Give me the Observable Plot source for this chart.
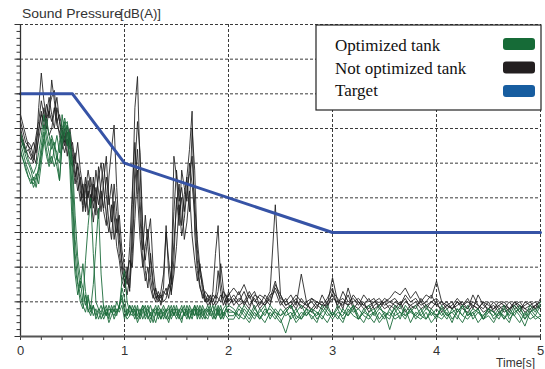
<!DOCTYPE html>
<html><head><meta charset="utf-8">
<script src="https://cdn.jsdelivr.net/npm/d3@7"></script>
<script src="https://cdn.jsdelivr.net/npm/@observablehq/plot@0.6"></script>
<style>html,body{margin:0;padding:0;background:#fff}svg{display:block}</style>
</head><body><div id="chart"></div>
<script>
// Samples: 0..2 s every 0.025 s (81 values), then 2.05..5 s every 0.05 s (60 values)
const black1 = [6.2,5.9,5.6,5.5,5.3,5.1,5.4,6.6,7.6,6.8,6.3,6.5,6.2,6.6,6.1,5.9,5.7,6.0,5.5,5.8,5.2,4.6,4.9,4.2,3.8,4.4,4.0,4.6,3.9,4.8,4.2,3.6,4.5,5.2,3.8,4.4,3.5,2.6,2.2,1.6,1.4,2.0,1.3,3.8,6.6,7.5,4.8,2.9,2.2,2.9,3.4,2.0,1.3,1.1,1.2,1.0,1.1,1.4,1.9,3.6,4.8,3.9,4.3,3.6,4.6,5.4,6.5,3.0,1.9,1.4,1.2,1.0,1.1,0.9,1.3,2.4,3.2,1.6,1.1,1.2,1.0,
  1.2,1.0,1.3,0.9,1.1,0.8,1.0,1.3,3.8,1.2,0.9,1.0,0.8,1.1,0.9,1.0,0.8,1.2,0.9,1.7,1.0,0.9,1.2,0.8,1.0,0.9,1.1,0.8,0.9,1.0,0.8,1.0,0.9,1.1,0.8,0.9,1.0,0.8,1.0,0.9,0.8,0.9,1.0,0.7,0.9,0.8,1.0,0.9,0.7,0.8,0.9,0.7,0.8,1.0,0.8,0.9,0.7,0.8,0.9,1.0];
const black2 = [5.8,5.6,5.3,5.4,5.2,5.0,5.6,6.0,6.4,6.2,6.7,6.3,7.4,6.8,6.2,6.4,6.0,5.6,5.9,5.4,5.6,5.0,5.6,4.8,4.3,3.7,4.5,3.9,4.4,3.5,4.9,4.1,3.6,3.2,4.6,5.4,6.1,4.3,3.0,2.2,1.8,1.5,2.6,4.2,5.6,4.1,2.8,2.0,2.6,3.1,2.2,1.4,1.2,1.0,1.3,1.8,3.0,2.2,1.5,5.2,4.6,3.5,4.0,2.8,3.3,4.2,2.9,2.2,1.6,2.1,1.3,1.1,0.9,1.0,1.2,1.1,1.9,1.3,0.9,1.1,1.2,
  1.4,1.2,1.5,1.1,1.3,0.9,1.2,1.0,1.4,1.1,1.0,1.2,0.9,1.8,1.0,1.1,0.9,0.8,1.0,1.2,0.9,1.3,1.0,1.1,0.9,1.2,1.0,1.1,0.8,1.0,1.1,1.3,1.2,1.4,1.1,1.3,1.0,1.2,1.1,1.6,1.0,0.9,0.8,1.0,0.9,1.1,0.8,1.2,0.9,0.8,1.0,0.8,0.9,0.7,1.0,0.8,0.9,1.0,0.8,0.9];
const black3 = [6.0,5.7,5.4,5.2,5.1,5.3,5.8,6.2,6.8,6.4,6.0,6.6,6.9,7.1,6.3,5.8,5.4,5.8,5.2,6.0,5.4,4.8,4.2,4.6,4.0,4.6,3.5,4.1,3.3,4.0,4.6,5.0,4.2,3.5,3.0,3.8,2.8,3.4,2.4,1.9,1.6,1.2,1.7,2.9,4.9,6.2,5.3,3.2,1.9,1.4,2.4,1.6,1.1,1.2,0.9,1.2,1.4,1.1,1.6,2.7,3.8,4.4,3.2,4.1,4.6,3.6,6.0,4.8,2.5,1.8,1.5,1.2,1.0,1.2,0.9,1.0,1.3,2.1,1.4,1.0,1.1,
  1.0,1.3,0.9,1.2,0.8,1.0,0.9,1.1,1.6,1.0,0.8,0.9,1.1,0.8,1.0,0.7,0.9,1.0,0.8,1.3,1.1,0.8,1.4,0.9,0.8,1.0,0.7,0.9,1.0,0.8,0.9,0.8,1.0,0.7,0.9,1.0,0.8,0.9,0.8,1.0,0.7,0.9,0.8,1.0,0.8,0.7,0.9,0.8,1.0,0.7,0.8,0.9,0.7,0.8,1.0,0.9,0.8,0.7,0.9,0.8];
const black4 = [6.4,6.1,5.8,5.5,5.4,5.6,5.3,5.7,6.1,6.6,6.2,5.8,6.0,6.5,6.9,6.2,5.9,5.5,6.1,5.6,5.0,4.4,5.0,4.5,3.6,4.2,4.8,4.3,3.7,4.3,3.8,4.4,5.0,4.1,3.3,2.8,3.9,3.0,3.5,2.5,2.0,1.6,1.4,2.4,4.4,5.4,3.9,2.5,3.5,2.6,1.7,1.2,1.0,1.3,1.1,1.4,3.2,1.8,1.2,2.2,4.0,3.2,4.8,4.3,3.9,5.0,4.4,3.5,2.2,1.5,1.1,1.3,1.2,1.0,1.1,0.9,1.0,1.2,1.1,0.9,1.3,
  0.9,1.1,1.0,0.8,1.2,1.1,0.9,1.2,1.3,0.9,1.1,0.8,1.0,0.9,0.8,1.1,1.0,0.9,1.1,1.4,0.8,1.0,0.9,1.2,1.0,0.8,0.9,1.0,1.1,0.9,1.0,0.9,0.8,1.0,0.9,0.8,1.1,0.9,1.0,1.1,0.9,1.0,0.8,0.9,1.0,0.8,1.2,0.9,0.8,1.0,0.7,0.9,1.0,0.8,0.9,1.0,0.8,0.9,1.0,0.8];
const black5 = [5.7,5.5,5.4,5.6,5.5,5.2,5.0,5.9,6.5,6.0,6.4,6.9,6.4,6.0,6.6,6.2,5.6,5.3,5.7,5.1,4.9,5.3,4.5,3.9,4.4,3.6,4.2,3.7,4.6,3.9,3.4,4.2,3.7,4.6,4.0,3.3,4.4,3.6,2.8,2.1,1.5,1.8,2.2,2.0,3.4,4.8,3.4,2.2,1.6,2.0,1.4,1.1,1.4,1.1,1.0,1.3,1.2,1.5,1.3,1.8,2.6,3.8,2.9,3.4,4.2,4.7,5.2,3.8,2.8,2.0,1.6,1.0,1.2,1.1,1.0,1.2,1.1,1.0,1.3,1.2,0.9,
  1.1,0.9,1.0,1.3,1.0,1.2,1.1,0.9,1.5,1.2,0.9,1.0,1.2,1.0,0.9,0.8,1.0,0.9,0.9,1.1,1.0,1.1,0.9,1.0,1.1,0.9,0.8,1.0,0.9,1.1,1.0,1.1,0.9,1.2,1.0,1.1,0.9,1.0,1.2,0.9,1.0,0.8,0.9,1.1,0.9,1.0,0.9,0.8,1.0,0.9,0.8,1.0,0.9,0.8,0.9,0.7,1.0,0.9,0.8,1.1];
const green1 = [5.8,5.5,5.2,5.0,4.8,4.5,4.7,4.4,5.0,5.6,6.3,5.8,5.4,5.6,5.1,5.6,6.0,6.3,5.9,4.8,3.0,1.8,1.2,1.6,1.0,2.2,3.2,4.0,2.4,1.0,0.8,0.7,0.9,0.6,0.8,0.7,0.9,0.7,0.8,1.6,1.9,1.0,0.7,0.6,0.8,0.5,0.7,0.9,0.6,0.8,0.5,0.7,0.9,0.6,0.8,0.5,0.7,0.9,0.6,0.8,0.7,0.5,0.8,0.6,0.9,0.7,0.5,0.8,0.6,0.9,0.7,0.5,0.8,0.6,0.7,0.9,0.6,0.8,0.5,0.7,0.8,
  0.7,0.5,0.8,0.6,0.9,0.5,0.7,0.8,0.6,0.4,0.7,0.9,0.5,0.7,0.6,0.8,0.5,0.7,0.9,0.6,0.8,0.5,0.7,0.9,0.6,0.4,0.7,0.8,0.5,0.7,0.6,0.8,0.5,0.9,0.7,0.6,0.8,0.5,0.7,0.6,0.8,0.6,0.7,0.5,0.9,0.6,0.7,0.8,0.5,0.7,0.6,0.8,0.5,0.7,0.6,0.9,0.5,0.7,0.8,0.6];
const green2 = [5.4,5.1,4.9,4.6,4.4,4.6,4.3,4.7,5.2,5.9,5.4,5.0,5.7,5.2,4.9,4.5,5.6,6.1,6.2,5.5,4.0,2.4,1.6,1.2,0.9,0.7,1.1,0.8,1.5,2.6,3.7,1.8,0.8,0.6,0.9,0.7,0.6,0.8,0.7,0.9,0.5,0.8,0.6,0.9,0.7,0.4,0.6,0.8,0.5,0.7,0.9,0.6,0.4,0.7,0.5,0.8,0.6,0.4,0.7,0.9,0.6,0.8,0.5,0.7,0.5,0.8,0.6,0.9,0.7,0.5,0.8,0.6,0.5,0.7,0.9,0.6,0.8,0.5,0.7,0.6,0.5,
  0.5,0.8,0.6,0.4,0.7,0.5,0.8,0.6,0.7,0.5,0.1,0.6,0.8,0.5,0.7,0.6,0.4,0.8,0.6,0.7,0.5,0.8,0.6,0.9,0.5,0.7,0.6,0.4,0.7,0.5,0.8,0.6,0.7,0.5,0.8,0.6,0.5,0.7,0.4,0.6,0.7,0.5,0.8,0.6,0.4,0.7,0.6,0.8,0.5,0.6,0.4,0.7,0.5,0.8,0.6,0.4,0.7,0.5,0.6,0.5];
const green3 = [5.6,5.3,5.0,4.8,4.6,4.3,4.5,4.9,5.5,6.1,5.7,5.3,5.0,5.4,5.8,5.3,6.4,5.8,5.5,5.9,4.6,2.8,2.0,1.4,2.1,1.3,0.8,0.6,0.9,0.5,0.7,0.9,0.6,0.8,0.5,0.9,0.7,1.0,0.8,1.4,1.1,0.6,0.9,0.7,0.9,0.6,0.8,0.5,0.7,0.9,0.6,0.8,0.6,0.9,0.7,0.6,0.8,0.5,0.8,0.6,0.9,0.6,0.7,0.9,0.6,0.9,0.7,0.6,0.8,0.6,0.9,0.7,0.9,0.7,0.5,0.8,0.7,0.9,0.6,0.8,0.9,
  0.8,0.6,0.9,0.7,0.5,0.8,0.6,0.9,0.7,0.6,0.8,0.5,0.7,0.9,0.6,0.8,0.7,0.5,0.8,0.6,0.9,0.7,0.6,0.8,0.5,0.7,0.9,0.6,0.8,0.7,0.2,0.7,0.9,0.6,0.8,0.5,0.7,0.9,0.6,0.8,0.6,0.8,0.5,0.7,0.9,0.6,0.8,0.7,0.5,0.8,0.7,0.5,0.8,0.6,0.9,0.7,0.5,0.8,0.6,0.9];
const green4 = [5.9,5.6,5.4,5.1,4.9,4.7,4.9,5.3,5.8,6.4,5.9,5.5,5.8,5.5,5.3,4.5,5.5,5.9,6.1,5.7,5.0,3.5,2.3,1.7,1.4,0.9,1.2,0.7,0.9,0.6,0.8,0.5,0.7,0.9,0.6,0.8,0.5,0.7,0.9,1.2,0.8,0.6,0.9,0.7,0.5,0.8,0.6,0.9,0.8,0.6,0.4,0.7,0.8,0.5,0.7,0.9,0.7,0.8,0.5,0.7,0.5,0.7,0.9,0.6,0.8,0.5,0.7,0.9,0.5,0.8,0.6,0.8,0.7,0.9,0.6,0.5,0.9,0.6,0.8,0.9,0.6,
  0.6,0.9,0.7,0.5,0.8,0.6,0.4,0.7,0.5,0.8,0.6,0.7,0.4,0.6,0.8,0.5,0.7,0.6,0.4,0.7,0.6,0.4,0.8,0.6,0.5,0.8,0.6,0.7,0.4,0.6,0.7,0.5,0.6,0.8,0.4,0.7,0.6,0.5,0.8,0.6,0.5,0.7,0.4,0.8,0.6,0.5,0.7,0.4,0.6,0.8,0.5,0.7,0.6,0.4,0.8,0.6,0.3,0.7,0.5,0.6];
const green5 = [5.3,5.1,4.8,4.6,4.5,4.4,4.6,4.8,5.3,5.7,5.2,4.9,5.2,4.9,5.2,5.0,5.8,6.2,5.6,5.2,3.6,2.0,1.5,1.0,0.8,1.2,0.7,0.9,0.6,0.8,0.5,0.7,0.5,0.7,0.4,0.6,0.8,0.6,0.9,1.1,0.7,0.5,0.6,0.8,0.6,0.9,0.5,0.7,0.9,0.5,0.7,0.4,0.7,0.8,0.5,0.7,0.5,0.7,0.9,0.6,0.8,0.6,0.4,0.8,0.7,0.5,0.8,0.6,0.9,0.7,0.5,0.7,0.6,0.8,0.7,0.5,0.7,0.5,0.6,0.8,0.7,
  0.7,0.6,0.5,0.8,0.6,0.7,0.9,0.5,0.8,0.6,0.7,0.9,0.6,0.5,0.8,0.7,0.6,0.9,0.7,0.5,0.7,0.6,0.9,0.7,0.8,0.6,0.5,0.7,0.9,0.6,0.5,0.9,0.7,0.6,0.7,0.9,0.6,0.8,0.7,0.5,0.9,0.6,0.7,0.8,0.6,0.9,0.5,0.7,0.6,0.8,0.7,0.6,0.9,0.5,0.7,0.8,0.6,0.9,0.7,1.0];
const targetTime = [0, 0.5, 1, 3, 5];
const targetLevel = [7, 7, 5, 3, 3];
const xTickLabels = [0, 1, 2, 3, 4, 5];
const legendLabels = ["Optimized tank", "Not optimized tank", "Target"];
const legendColors = ["#166b37", "#231f20", "#175da0"];

function timeAt(i) { return i <= 80 ? i * 0.025 : 2 + (i - 80) * 0.05; }
function toRows(arr, id) { return arr.map((v, i) => ({t: timeAt(i), v, id})); }
const blackRows = [black1, black2, black3, black4, black5].flatMap((a, k) => toRows(a, "b" + k));
const greenRows = [green1, green2, green3, green4, green5].flatMap((a, k) => toRows(a, "g" + k));
const targetRows = targetTime.map((t, i) => ({t, v: targetLevel[i]}));

const dash = {stroke: "#3a3a3a", strokeOpacity: 1, strokeWidth: 1, strokeDasharray: "3,2"};
const chart = Plot.plot({
  width: 545, height: 369,
  marginLeft: 20, marginRight: 5, marginTop: 24, marginBottom: 33,
  x: {domain: [0, 5]},
  y: {domain: [0, 9]},
  style: {fontFamily: "'Liberation Sans', Arial, sans-serif", background: "white", color: "#333"},
  marks: [
    Plot.gridY(d3.range(1, 10), dash),
    Plot.gridX([1, 2, 3, 4, 5], dash),
    Plot.line(blackRows, {x: "t", y: "v", z: "id", stroke: "#1c1c1c", strokeWidth: 0.9, strokeOpacity: 0.95}),
    Plot.line(greenRows, {x: "t", y: "v", z: "id", stroke: "#1b6b3a", strokeWidth: 0.9}),
    Plot.line(targetRows, {x: "t", y: "v", stroke: "#3653a6", strokeWidth: 3}),
    Plot.axisX(d3.range(0, 5.001, 0.2), {tickSize: 4, tickFormat: () => "", label: null, stroke: "#333"}),
    Plot.axisX(xTickLabels, {tickSize: 4, tickPadding: 5, fontSize: 13, label: null, stroke: "#333", fill: "#333"}),
    Plot.axisY(d3.range(0, 9.001, 0.2), {tickSize: 3.5, tickFormat: () => "", label: null, stroke: "#333"}),
    Plot.axisY(d3.range(0, 10), {tickSize: 5.5, tickFormat: () => "", label: null, stroke: "#333"}),
    Plot.ruleX([0], {stroke: "#333", strokeWidth: 1.3}),
    Plot.ruleY([0], {stroke: "#555", strokeWidth: 2})
  ]
});
document.getElementById("chart").appendChild(chart);

const svg = d3.select(chart);
const sans = "'Liberation Sans', Arial, sans-serif";
// axis titles
svg.append("text").attr("x", 22).attr("y", 18).attr("font-size", 13).attr("text-anchor", "start")
  .attr("font-family", sans).attr("fill", "#333")
  .attr("textLength", 100).attr("lengthAdjust", "spacingAndGlyphs").text("Sound Pressure");
svg.append("text").attr("x", 120).attr("y", 18).attr("font-size", 13).attr("text-anchor", "start")
  .attr("font-family", sans).attr("fill", "#333")
  .attr("textLength", 41).attr("lengthAdjust", "spacingAndGlyphs").text("[dB(A)]");
svg.append("text").attr("x", 535).attr("y", 366.5).attr("font-size", 12).attr("text-anchor", "end")
  .attr("font-family", sans).attr("fill", "#333").text("Time[s]");

// legend
const lg = svg.append("g");
lg.append("rect").attr("x", 316).attr("y", 25).attr("width", 225).attr("height", 85)
  .attr("fill", "white").attr("stroke", "#222").attr("stroke-width", 1.2);
legendLabels.forEach((lab, i) => {
  lg.append("text").attr("x", 335).attr("y", 51 + i * 22.6).attr("text-anchor", "start")
    .attr("font-family", "'Liberation Serif', 'Times New Roman', serif").attr("font-size", 17)
    .attr("fill", "#111").text(lab);
  lg.append("rect").attr("x", 503).attr("y", 38 + i * 23.5).attr("width", 32).attr("height", 12)
    .attr("rx", 3).attr("fill", legendColors[i]);
});
</script></body></html>
